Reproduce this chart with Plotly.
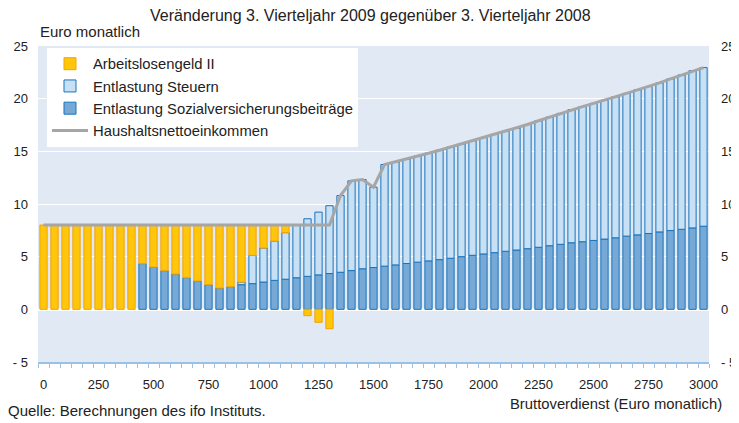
import plotly.graph_objects as go

# Bruttoverdienst (Euro monatlich), step 50
brutto = list(range(0, 3001, 50))

arbeitslosengeld = [8.0, 8.0, 8.0, 8.0, 8.0, 8.0, 8.0, 8.0, 8.0,
                    3.66, 3.99, 4.33, 4.65, 5.0, 5.31, 5.66, 5.98, 5.85, 5.41,
                    2.88, 2.18, 1.52, 0.72, 0, -0.6, -1.23, -1.84,
                    0, 0, 0, 0, 0, 0, 0, 0, 0, 0, 0, 0, 0, 0, 0, 0, 0,
                    0, 0, 0, 0, 0, 0, 0, 0, 0, 0, 0, 0, 0, 0, 0, 0, 0]

steuern = [0, 0, 0, 0, 0, 0, 0, 0, 0, 0, 0, 0, 0, 0, 0, 0, 0, 0,
           0.25, 2.68, 3.23, 3.73, 4.42, 5.0, 5.47, 5.96, 6.44, 7.28, 8.52, 8.48, 7.63,
           9.65, 9.78, 9.92, 10.07, 10.22, 10.38, 10.55, 10.7, 10.87, 11.04, 11.22,
           11.39, 11.57, 11.79, 12.01, 12.21, 12.43, 12.63, 12.83, 13.01, 13.18,
           13.39, 13.55, 13.76, 13.95, 14.15, 14.4, 14.65, 14.92, 15.06]

sozialvers = [0, 0, 0, 0, 0, 0, 0, 0, 0,
              4.34, 4.01, 3.67, 3.35, 3.0, 2.69, 2.34, 2.02, 2.15, 2.34,
              2.44, 2.59, 2.75, 2.86, 3.0, 3.13, 3.27, 3.4, 3.52, 3.68, 3.85, 3.97,
              4.1, 4.22, 4.35, 4.48, 4.6, 4.72, 4.85, 5.0, 5.13, 5.26, 5.38, 5.51,
              5.63, 5.76, 5.89, 6.04, 6.17, 6.32, 6.42, 6.54, 6.67, 6.79, 6.95,
              7.07, 7.2, 7.35, 7.48, 7.6, 7.73, 7.89]

nettoeinkommen = [8.0] * 27 + [10.8, 12.2, 12.33, 11.6, 13.75, 14.0, 14.27, 14.55, 14.82,
                               15.1, 15.4, 15.7, 16.0, 16.3, 16.6, 16.9, 17.2, 17.55,
                               17.9, 18.25, 18.6, 18.95, 19.25, 19.55, 19.85, 20.18,
                               20.5, 20.83, 21.15, 21.5, 21.88, 22.25, 22.65, 22.95]

x_ticks = list(range(0, 3001, 250))
y_ticks = [-5, 0, 5, 10, 15, 20, 25]
y_ticktext = ["- 5", "0", "5", "10", "15", "20", "25"]


def nz(vals):
    return [v if v != 0 else None for v in vals]


FONT = "Liberation Sans, Arial, sans-serif"
BAR_W = 33

fig = go.Figure()
fig.add_trace(go.Bar(x=brutto, y=nz(sozialvers), width=BAR_W,
                     name="Entlastung Sozialversicherungsbeiträge",
                     marker=dict(color="#76a9d6", line=dict(color="#1a74bd", width=1)),
                     legendrank=3, legendgroup="c"))
fig.add_trace(go.Bar(x=brutto, y=nz(steuern), width=BAR_W,
                     name="Entlastung Steuern",
                     marker=dict(color="#c7e0f3", line=dict(color="#1a74bd", width=1)),
                     legendrank=2, legendgroup="b"))
fig.add_trace(go.Bar(x=brutto, y=nz(arbeitslosengeld), width=BAR_W,
                     name="Arbeitslosengeld II",
                     marker=dict(color="#ffc60b", line=dict(color="#f5a200", width=1)),
                     legendrank=1, legendgroup="a"))
fig.add_trace(go.Scatter(x=brutto, y=nettoeinkommen, mode="lines",
                         name="Haushaltsnettoeinkommen",
                         line=dict(color="#a6a6a6", width=3),
                         legendrank=4, legendgroup="d"))
# dummy trace for the right-hand axis
fig.add_trace(go.Scatter(x=[0], y=[0], yaxis="y2", mode="markers",
                         marker=dict(opacity=0), showlegend=False, hoverinfo="skip"))

axis_font = dict(family=FONT, size=13, color="#222222")

fig.update_layout(
    width=731, height=415,
    margin=dict(l=30, r=30, t=38, b=61, autoexpand=False),
    paper_bgcolor="white",
    plot_bgcolor="#e1e9f4",
    barmode="relative",
    font=dict(family=FONT, size=14, color="#222222"),
    showlegend=True,
    legend=dict(x=0.0134, y=0.995, xanchor="left", yanchor="top",
                bgcolor="white", borderwidth=0, traceorder="grouped",
                tracegroupgap=0, itemwidth=36,
                font=dict(family=FONT, size=14.8, color="#222222")),
    xaxis=dict(range=[-25, 3025], tickvals=x_ticks, showgrid=False, zeroline=False,
               showline=True, linecolor="#9cc0e4", linewidth=1.5, automargin=False,
               ticks="", ticklabelstandoff=10, tickfont=axis_font,
               minor=dict(tick0=-25, dtick=50, ticks="outside", ticklen=4,
                          tickcolor="#9cc0e4", showgrid=False)),
    yaxis=dict(range=[-5, 25], tickvals=y_ticks, ticktext=y_ticktext, automargin=False,
               showgrid=True, gridcolor="white", gridwidth=1,
               zeroline=True, zerolinecolor="white", zerolinewidth=2.5,
               showline=False, ticks="", ticklabelstandoff=9, tickfont=axis_font),
    yaxis2=dict(range=[-5, 25], tickvals=y_ticks, ticktext=y_ticktext, automargin=False,
                overlaying="y", side="right", showgrid=False, zeroline=False,
                showline=False, ticks="", ticklabelstandoff=11, tickfont=axis_font),
    annotations=[
        dict(text="Veränderung 3. Vierteljahr 2009 gegenüber 3. Vierteljahr 2008",
             xref="paper", yref="paper", x=0.4948, y=1.097, xanchor="center",
             yanchor="middle", showarrow=False, font=dict(size=16)),
        dict(text="Euro monatlich", xref="paper", yref="paper", x=0, y=1.047,
             xanchor="left", yanchor="middle", showarrow=False, font=dict(size=15)),
        dict(text="Bruttoverdienst (Euro monatlich)", xref="paper", yref="paper",
             x=1.0224, y=-0.133, xanchor="right", yanchor="middle", showarrow=False,
             font=dict(size=14.8)),
        dict(text="Quelle: Berechnungen des ifo Instituts.", xref="paper", yref="paper",
             x=-0.048, y=-0.155, xanchor="left", yanchor="middle", showarrow=False,
             font=dict(size=15)),
    ],
)

fig.write_html("out.html")
